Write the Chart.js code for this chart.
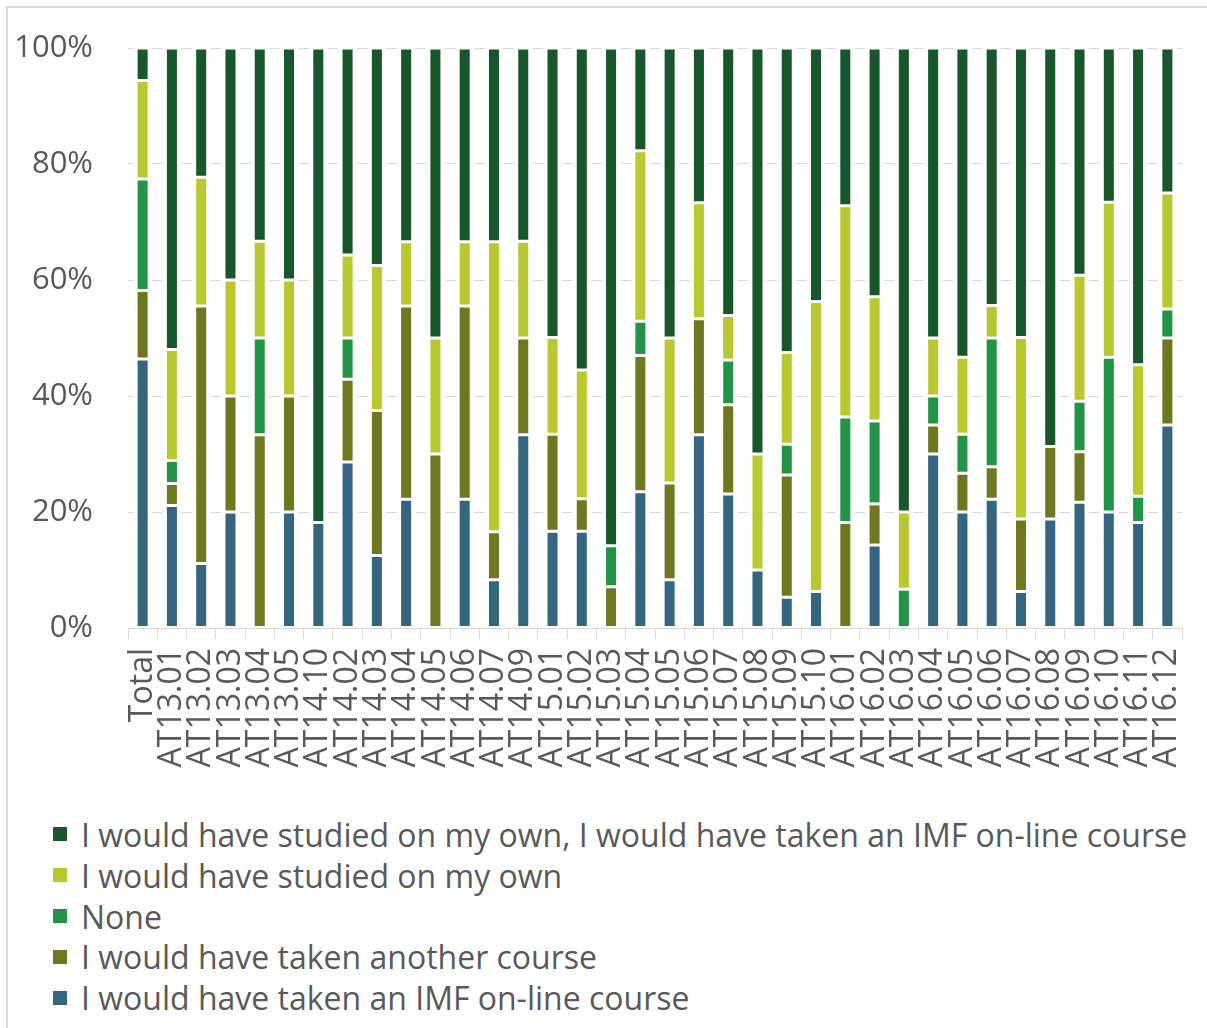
<!DOCTYPE html>
<html>
<head>
<meta charset="utf-8">
<script src="https://cdn.jsdelivr.net/npm/chart.js@4/dist/chart.umd.min.js"></script>
<style>
  body { margin: 0; background: #fff; font-family: 'Open Sans', sans-serif; }
  #frame { position: absolute; left: 6px; top: 6px; width: 1201px; height: 1022px;
           border-top: 2px solid #d9d9d9; border-left: 2px solid #d9d9d9; }
  #wrap { position: absolute; left: 0; top: 0; width: 1207px; height: 800px; }
  #legend { position: absolute; left: 53px; top: 814px; }
  .item { display: flex; align-items: center; height: 40.8px; color: #595959; font-size: 32px; white-space: nowrap; }
  .item span.box { display: inline-block; width: 14px; height: 14px; margin-right: 14px; }
</style>
</head>
<body>
<div id="frame"></div>
<div id="wrap"><canvas id="chart"></canvas></div>
<div id="legend"></div>
<script>
// categories on the x axis
const categories = ['Total', 'AT13.01', 'AT13.02', 'AT13.03', 'AT13.04', 'AT13.05', 'AT14.10', 'AT14.02',
    'AT14.03', 'AT14.04', 'AT14.05', 'AT14.06', 'AT14.07', 'AT14.09', 'AT15.01', 'AT15.02', 'AT15.03',
    'AT15.04', 'AT15.05', 'AT15.06', 'AT15.07', 'AT15.08', 'AT15.09', 'AT15.10', 'AT16.01', 'AT16.02',
    'AT16.03', 'AT16.04', 'AT16.05', 'AT16.06', 'AT16.07', 'AT16.08', 'AT16.09', 'AT16.10', 'AT16.11', 'AT16.12'];

// shares in %, bottom of the stack first
const imfOnline = [46.4, 21.1, 11.1, 20, 0, 20, 18.2, 28.6, 12.5, 22.2, 0, 22.2, 8.3, 33.3, 16.7, 16.7, 0,
    23.5, 8.3, 33.3, 23.1, 10, 5.3, 6.3, 0, 14.3, 0, 30, 20, 22.2, 6.3, 18.8, 21.7, 20, 18.2, 35];
const anotherCourse = [11.8, 3.8, 44.4, 20, 33.3, 20, 0, 14.3, 25, 33.3, 30, 33.3, 8.3, 16.7, 16.7, 5.6, 7.1,
    23.5, 16.7, 20, 15.4, 0, 21.1, 0, 18.2, 7.1, 0, 5, 6.7, 5.6, 12.5, 12.5, 8.7, 0, 0, 15];
const noneOfThem = [19.2, 4.0, 0, 0, 16.7, 0, 0, 7.1, 0, 0, 0, 0, 0, 0, 0, 0, 7.1,
    5.9, 0, 0, 7.7, 0, 5.3, 0, 18.2, 14.3, 6.7, 5, 6.7, 22.2, 0, 0, 8.7, 26.7, 4.5, 5];
const studiedOwn = [17.0, 19.1, 22.2, 20, 16.7, 20, 0, 14.3, 25, 11.1, 20, 11.1, 50, 16.7, 16.7, 22.2, 0,
    29.4, 25, 20, 7.7, 20, 15.8, 50, 36.4, 21.4, 13.3, 10, 13.3, 5.6, 31.3, 0, 21.7, 26.7, 22.7, 20];
const ownOrImf = [5.6, 52, 22.3, 40, 33.3, 40, 81.8, 35.7, 37.5, 33.4, 50, 33.4, 33.4, 33.3, 49.9, 55.5, 85.8,
    17.7, 50, 26.7, 46.1, 70, 52.5, 43.7, 27.2, 42.9, 80, 50, 53.3, 44.4, 49.9, 68.7, 39.2, 26.6, 54.6, 25];

const yTicks = [0, 20, 40, 60, 80, 100];

Chart.defaults.font.family = "'Open Sans', sans-serif";
Chart.defaults.color = '#595959';

// white outline, wider at the sides so gridlines stop short of the bars
const barStyle = {
    borderColor: '#ffffff',
    borderWidth: { top: 1.5, bottom: 1.5, left: 4.5, right: 4.5 },
    borderSkipped: false,
    barPercentage: 0.65,
    categoryPercentage: 1
};

const chart = new Chart(document.getElementById('chart'), {
    type: 'bar',
    data: {
        labels: categories,
        datasets: [
            { label: 'I would have taken an IMF on-line course', data: imfOnline, backgroundColor: '#35667F', ...barStyle },
            { label: 'I would have taken another course', data: anotherCourse, backgroundColor: '#6E781F', ...barStyle },
            { label: 'None', data: noneOfThem, backgroundColor: '#239347', ...barStyle },
            { label: 'I would have studied on my own', data: studiedOwn, backgroundColor: '#B9C82E', ...barStyle },
            { label: 'I would have studied on my own, I would have taken an IMF on-line course', data: ownOrImf, backgroundColor: '#18572C', ...barStyle }
        ]
    },
    options: {
        responsive: true,
        maintainAspectRatio: false,
        animation: false,
        layout: { padding: { left: 10, right: 25, top: 48, bottom: 0 } },
        plugins: {
            legend: { display: false },
            tooltip: { enabled: false }
        },
        scales: {
            x: {
                stacked: true,
                afterFit: (scale) => {
                    scale.height = 800 - 628;
                    scale.paddingLeft = 0;
                    scale.paddingRight = 0;
                },
                grid: { drawOnChartArea: false, drawTicks: true, tickLength: 11, color: '#d9d9d9', offset: true },
                border: { display: true, color: '#d9d9d9', width: 1 },
                ticks: { maxRotation: 90, minRotation: 90, autoSkip: false, padding: 9, font: { size: 32 } }
            },
            y: {
                stacked: true,
                min: 0,
                max: 100,
                afterFit: (scale) => {
                    scale.width = 118;
                    scale.paddingTop = 0;
                    scale.paddingBottom = 0;
                },
                afterBuildTicks: (scale) => { scale.ticks = yTicks.map(v => ({ value: v })); },
                grid: {
                    drawTicks: false,
                    color: (c) => c.tick && c.tick.value === 0 ? 'rgba(0,0,0,0)' : '#d9d9d9'
                },
                border: { display: false },
                ticks: { padding: 35, font: { size: 31 }, callback: (v) => v + '%' }
            }
        }
    }
});

// legend, top entry = last dataset
const legendEl = document.getElementById('legend');
chart.data.datasets.slice().reverse().forEach(ds => {
    const row = document.createElement('div');
    row.className = 'item';
    const box = document.createElement('span');
    box.className = 'box';
    box.style.background = ds.backgroundColor;
    row.appendChild(box);
    row.appendChild(document.createTextNode(ds.label));
    legendEl.appendChild(row);
});
</script>
</body>
</html>
